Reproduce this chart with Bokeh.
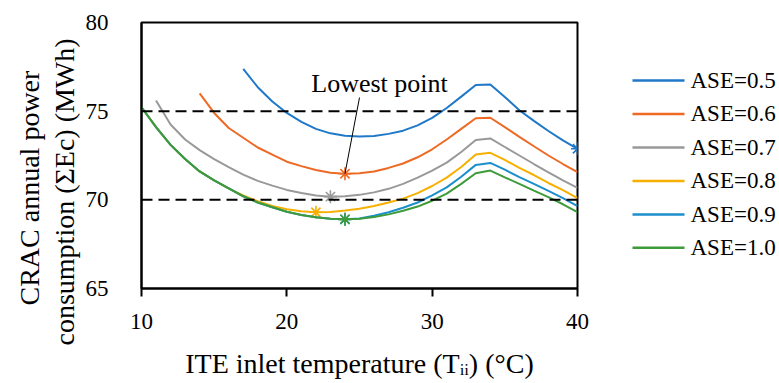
import numpy as np
from bokeh.plotting import figure
from bokeh.layouts import row
from bokeh.models import Span, Label, FixedTicker, Range1d, Title
from bokeh.core.properties import value
from bokeh.embed import file_html
from bokeh.resources import INLINE

# ---------------- data ----------------
series_names = ["ASE=0.5", "ASE=0.6", "ASE=0.7", "ASE=0.8", "ASE=0.9", "ASE=1.0"]

t_ase05 = list(range(17, 41))
e_ase05 = [77.38, 76.35, 75.55, 74.90, 74.40, 74.00, 73.75, 73.62, 73.57, 73.60,
           73.72, 73.90, 74.20, 74.62, 75.18, 75.82, 76.48, 76.50, 75.80, 75.05,
           74.45, 73.88, 73.35, 72.88]

t_ase06 = list(range(14, 41))
e_ase06 = [76.00, 74.90, 74.05, 73.50, 72.95, 72.55, 72.15, 71.90, 71.68, 71.53,
           71.47, 71.50, 71.60, 71.80, 72.05, 72.40, 72.85, 73.40, 74.00, 74.60,
           74.63, 74.10, 73.55, 73.02, 72.50, 72.02, 71.56]

t_ase07 = list(range(11, 41))
e_ase07 = [75.60, 74.25, 73.40, 72.80, 72.30, 71.85, 71.42, 71.07, 70.80, 70.56,
           70.38, 70.25, 70.18, 70.20, 70.28, 70.42, 70.62, 70.90, 71.25, 71.65,
           72.10, 72.70, 73.38, 73.46, 72.98, 72.50, 72.02, 71.55, 71.10, 70.68]

t_ase08 = list(range(10, 41))
e_ase08 = [75.22, 74.10, 73.10, 72.30, 71.60, 71.10, 70.65, 70.25, 69.92, 69.65,
           69.47, 69.35, 69.30, 69.32, 69.40, 69.50, 69.65, 69.85, 70.07, 70.38,
           70.78, 71.25, 71.85, 72.55, 72.65, 72.25, 71.80, 71.40, 70.95, 70.55, 70.10]

t_ase09 = list(range(10, 41))
e_ase09 = [75.22, 74.10, 73.10, 72.30, 71.60, 71.10, 70.65, 70.20, 69.85, 69.58,
           69.33, 69.15, 69.02, 68.94, 68.90, 68.95, 69.10, 69.30, 69.55, 69.85,
           70.25, 70.70, 71.30, 71.97, 72.08, 71.70, 71.28, 70.90, 70.50, 70.10, 69.65]

t_ase10 = list(range(10, 41))
e_ase10 = [75.22, 74.10, 73.10, 72.30, 71.60, 71.10, 70.65, 70.20, 69.85, 69.58,
           69.33, 69.15, 69.02, 68.94, 68.90, 68.93, 69.03, 69.18, 69.38, 69.62,
           69.95, 70.35, 70.90, 71.50, 71.65, 71.27, 70.90, 70.52, 70.15, 69.75, 69.30]

# temperature of the marked ("lowest") point of each series
marker_t = [40, 24, 23, 22, 24, 24]

x_ticks = [10, 20, 30, 40]
y_ticks = [65, 70, 75, 80]
ref_levels = [75, 70]

colors = ["#1f78c8", "#ee6a24", "#999999", "#f7b000", "#1b8fcc", "#3e9b3a"]

# ---------------- main figure ----------------
W, H = 779, 383
MAIN_W = 600
FL, FR, FT, FB = 141, 577, 22, 288   # frame edges in px

def px2x(px):
    return 10 + (px - FL) / (FR - FL) * 30

def px2y(py):
    return 80 - (py - FT) / (FB - FT) * 15

FONT = "Liberation Serif"
TITLE_SIZE = "28px"

p = figure(width=MAIN_W, height=H, x_range=Range1d(10, 40), y_range=Range1d(65, 80),
           output_backend="svg", toolbar_location=None,
           min_border_left=FL, min_border_right=MAIN_W - FR,
           min_border_top=FT, min_border_bottom=H - FB)
p.grid.visible = False
p.outline_line_color = "black"
p.outline_line_width = 2
p.background_fill_color = "white"
p.border_fill_color = "white"

p.xaxis.ticker = FixedTicker(ticks=x_ticks)
p.yaxis.ticker = FixedTicker(ticks=y_ticks)
for ax in (p.xaxis, p.yaxis):
    ax.axis_line_width = 2
    ax.axis_line_color = "black"
    ax.minor_tick_line_color = None
    ax.major_label_text_font = FONT
    ax.major_label_text_font_size = "23px"
    ax.major_label_text_color = "black"
p.xaxis.major_tick_line_width = 2
p.xaxis.major_tick_out = 8
p.xaxis.major_tick_in = 0
p.xaxis.major_label_standoff = 17
p.xaxis.axis_label = "ITE inlet temperature (Tᵢᵢ) (°C)"
p.xaxis.axis_label_text_font = FONT
p.xaxis.axis_label_text_font_size = TITLE_SIZE
p.xaxis.axis_label_text_font_style = "normal"
p.xaxis.axis_label_text_color = "black"
p.xaxis.axis_label_standoff = 16
p.yaxis.major_tick_line_color = None
p.yaxis.major_tick_out = 0
p.yaxis.major_tick_in = 0
p.yaxis.major_label_standoff = 33

# y-axis title in two lines (nearest line added first)
p.add_layout(Title(text="consumption (ΣEc) (MWh)", align="left", offset=-57,
                   text_font=FONT, text_font_size=TITLE_SIZE, text_font_style="normal",
                   text_color="black", standoff=5), "left")
p.add_layout(Title(text="CRAC annual power", align="left", offset=-17,
                   text_font=FONT, text_font_size=TITLE_SIZE, text_font_style="normal",
                   text_color="black", standoff=0), "left")

for lv in ref_levels:
    p.add_layout(Span(location=lv, dimension="width", line_color="black",
                      line_width=2, line_dash="11 6"))

all_t = [t_ase05, t_ase06, t_ase07, t_ase08, t_ase09, t_ase10]
all_e = [e_ase05, e_ase06, e_ase07, e_ase08, e_ase09, e_ase10]

for name, ts, es, col, mt in zip(series_names, all_t, all_e, colors, marker_t):
    p.line(ts, es, line_color=col, line_width=2)
    me = es[ts.index(mt)]
    p.scatter([mt], [me], marker="asterisk", size=13, line_color=col, line_width=1.6)

# annotation "Lowest point"
low_t = marker_t[1]
low_e = all_e[1][all_t[1].index(low_t)]
p.segment(x0=[px2x(359)], y0=[px2y(97)], x1=[low_t], y1=[low_e],
          line_color="black", line_width=1)
p.add_layout(Label(x=px2x(379), y=px2y(83), text="Lowest point",
                   text_font=FONT, text_font_size="26px", text_align="center",
                   text_baseline="alphabetic", text_color="black"))

# ---------------- legend panel (pixel coordinates, y downwards) ----------------
LW = W - MAIN_W
q = figure(width=LW, height=H, x_range=Range1d(0, LW), y_range=Range1d(H, 0),
           output_backend="svg", toolbar_location=None, title=None,
           x_axis_location=None, y_axis_location=None, min_border=0)
q.grid.visible = False
q.outline_line_color = None
q.background_fill_color = "white"
q.border_fill_color = "white"

first_y, pitch = 83.5, 48.2
glyph_x0, glyph_x1, text_x = 632 - MAIN_W, 684 - MAIN_W, 690 - MAIN_W
ys = [first_y + i * pitch for i in range(len(series_names))]
q.segment(x0=[glyph_x0] * len(ys), y0=ys, x1=[glyph_x1] * len(ys), y1=ys,
          line_color=colors, line_width=2.5)
q.text(x=[text_x] * len(ys), y=ys, text=series_names, text_font=value(FONT),
       text_font_size="23px", text_baseline="middle", text_align="left",
       text_color="black")

layout = row(p, q, spacing=0)
open("out.html", "w").write(file_html(layout, INLINE))
